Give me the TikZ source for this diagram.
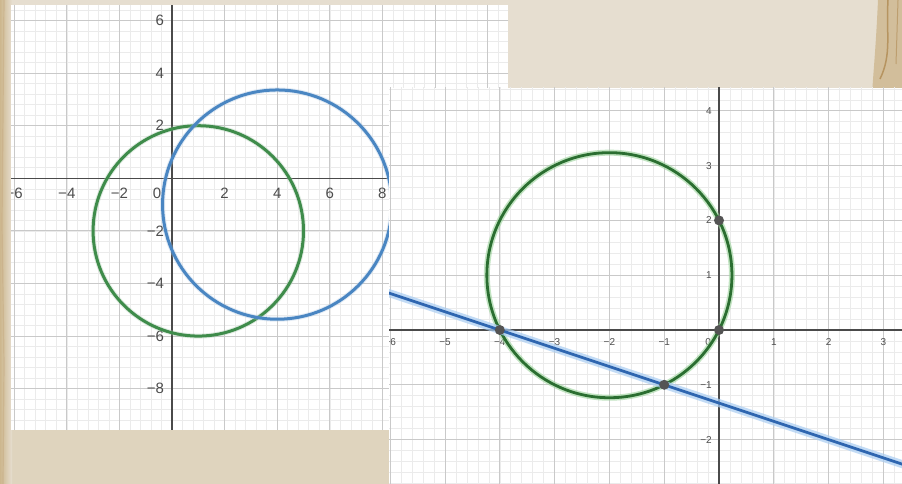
\documentclass[tikz,border=0pt]{standalone}
\usepackage{fontspec}
\setmainfont{Liberation Sans}
\definecolor{paper}{HTML}{E6DED0}
\definecolor{paperdark}{HTML}{D9CBAE}
\definecolor{edgetan}{HTML}{CDB78E}
\definecolor{edgebrown}{HTML}{B08A52}
\definecolor{minorgrid}{HTML}{EBEBEB}
\definecolor{majorgrid}{HTML}{C9C9C9}
\definecolor{axiscol}{HTML}{4A4A4A}
\definecolor{labelcol}{HTML}{4D4D4D}
\definecolor{dgreen}{HTML}{3F8C4B}
\definecolor{dblue}{HTML}{4A86C2}
\definecolor{rgreen}{HTML}{2B6E31}
\definecolor{rgreenhalo}{HTML}{9AD39A}
\definecolor{rblue}{HTML}{2F66B0}
\definecolor{rbluehalo}{HTML}{A9CDF2}
\definecolor{ptcol}{HTML}{545454}
\tikzset{
  minorline/.style={draw=minorgrid, line width=0.6pt},
  majorline/.style={draw=majorgrid, line width=1pt},
  axisline/.style={draw=axiscol, line width=1.1pt},
  bigtick/.style={text=labelcol, font=\fontsize{15}{15}\selectfont, inner sep=0pt},
  smalltick/.style={text=labelcol, font=\fontsize{10}{10}\selectfont, inner sep=0pt},
  dotpt/.style={circle, fill=ptcol, inner sep=0pt, minimum size=10pt}
}
\begin{document}
\begin{tikzpicture}[x=1pt,y=1pt]
\useasboundingbox (0,0) rectangle (902,484);
% paper background
\fill[paper] (0,0) rectangle (902,484);
\fill[paperdark, opacity=0.5] (0,0) rectangle (902,60);
\fill[left color=edgetan, right color=paper] (0,0) rectangle (12,484);
\draw[edgebrown!70, line width=1.2pt, opacity=0.6] (3,0) -- (4,120) -- (2,260) -- (4,484);
% top-right decoration
\fill[edgetan, opacity=0.8] (878,484) .. controls (876,440) and (874,420) .. (872,390)
  -- (902,390) -- (902,484) -- cycle;
\draw[edgebrown, line width=1.5pt, opacity=0.8] (888,484) .. controls (886,450) and (892,430) .. (880,405);
\draw[edgebrown, line width=1pt, opacity=0.6] (898,484) -- (896,420);

% ================= LEFT PANEL =================
\begin{scope}[shift={(172pt,305.7pt)}, x=26.3pt, y=26.3pt]
  \fill[white] (-6.12,-9.57) rectangle (12.78,6.59);
  \begin{scope}
    \clip (-6.12,-9.57) rectangle (12.78,6.59);
    \foreach \i in {-15,...,31} \draw[minorline] (\i*0.4,-9.6) -- (\i*0.4,6.6);
    \foreach \j in {-23,...,16} \draw[minorline] (-6.2,\j*0.4) -- (12.8,\j*0.4);
    \foreach \i in {-6,-4,...,12} \draw[majorline] (\i,-9.6) -- (\i,6.6);
    \foreach \j in {-8,-6,...,6} \draw[majorline] (-6.2,\j) -- (12.8,\j);
    \draw[axisline] (-6.2,0) -- (12.8,0);
    \draw[axisline] (0,-9.6) -- (0,6.6);
    % x labels
    \foreach \v/\t in {-6/−6,-4/−4,-2/−2,2/2,4/4,6/6,8/8,10/10,12/12}
      \node[bigtick] (lx\v) at (\v,-0.56) {\t};
    \node[bigtick] (lx0) at (-0.57,-0.56) {0};
    % y labels
    \foreach \v/\t in {6/6,4/4,2/2,-2/−2,-4/−4,-6/−6,-8/−8}
      \node[bigtick, anchor=east] (ly\v) at (-0.3,\v) {\t};
    % circles
    \draw[dgreen!45, line width=5pt, opacity=0.35] (1,-2) circle (4);
    \draw[dgreen, line width=3pt] (1,-2) circle (4);
    \draw[dblue!45, line width=5pt, opacity=0.35] (4,-1) circle ({sqrt(19)});
    \draw[dblue, line width=3pt] (4,-1) circle ({sqrt(19)});
  \end{scope}
\end{scope}

% ================= RIGHT PANEL =================
\begin{scope}[shift={(719pt,154pt)}, x=54.8pt, y=54.8pt]
  \fill[white] (-6.02,-2.81) rectangle (3.34,4.42);
  \begin{scope}
    \clip (-6.02,-2.81) rectangle (3.34,4.42);
    \foreach \i in {-30,...,16} \draw[minorline] (\i*0.2,-2.9) -- (\i*0.2,4.5);
    \foreach \j in {-14,...,22} \draw[minorline] (-6.1,\j*0.2) -- (3.4,\j*0.2);
    \foreach \i in {-6,...,3} \draw[majorline] (\i,-2.9) -- (\i,4.5);
    \foreach \j in {-2,...,4} \draw[majorline] (-6.1,\j) -- (3.4,\j);
    \draw[axisline] (-6.1,0) -- (3.4,0);
    \draw[axisline] (0,-2.9) -- (0,4.5);
    % x labels
    \foreach \v/\t in {-6/−6,-5/−5,-4/−4,-3/−3,-2/−2,-1/−1,1/1,2/2,3/3}
      \node[smalltick] (rx\v) at (\v,-0.22) {\t};
    \node[smalltick] (rx0) at (-0.2,-0.22) {0};
    % y labels
    \foreach \v/\t in {4/4,3/3,2/2,1/1,-1/−1,-2/−2}
      \node[smalltick, anchor=east] (ry\v) at (-0.13,\v) {\t};
    % circle
    \draw[rgreenhalo, line width=6pt, opacity=0.6] (-2,1) circle ({sqrt(5)});
    \draw[rgreen, line width=2.8pt] (-2,1) circle ({sqrt(5)});
    % line y = -(x+4)/3
    \coordinate (la) at (-6.2,{2.2/3});
    \coordinate (lb) at (3.5,{-7.5/3});
    \draw[rbluehalo, line width=8pt, opacity=0.7] (la) -- (lb);
    \draw[rblue, line width=2.8pt] (la) -- (lb);
    % points
    \node[dotpt] (p1) at (-4,0) {};
    \node[dotpt] (p2) at (-1,-1) {};
    \node[dotpt] (p3) at (0,0) {};
    \node[dotpt] (p4) at (0,2) {};
  \end{scope}
\end{scope}
\end{tikzpicture}
\end{document}
